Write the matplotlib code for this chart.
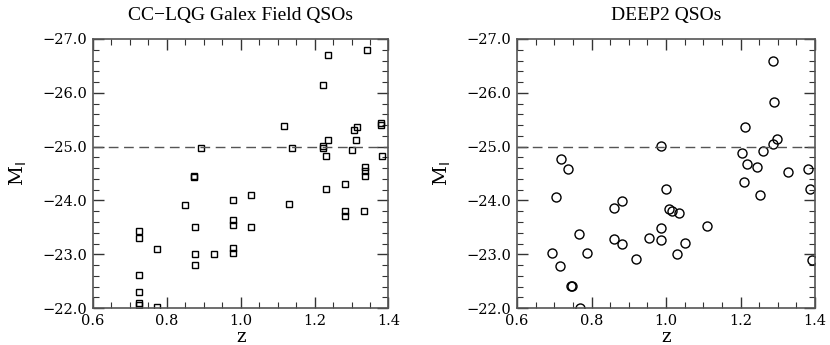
import numpy as np
import matplotlib.pyplot as plt
from matplotlib.ticker import MultipleLocator, FuncFormatter

# CC-LQG Galex field QSOs
z_galex = [0.892, 0.874, 0.874, 1.236, 1.342, 1.224, 1.118, 1.138, 1.224, 1.224,
           1.236, 1.231, 1.306, 1.314, 1.311, 1.300, 1.379, 1.379, 1.383, 1.336,
           1.336, 1.336, 1.283, 1.231, 1.028, 0.978, 1.130, 1.283, 1.283, 1.334,
           0.978, 0.978, 1.028, 0.978, 0.978, 0.724, 0.724, 0.724, 0.724, 0.724,
           0.724, 0.774, 0.774, 0.850, 0.875, 0.875, 0.875, 0.927]
m_galex = [-24.97, -24.43, -24.46, -26.71, -26.80, -26.14, -25.38, -24.98, -25.01, -24.97,
           -25.12, -24.83, -25.30, -25.37, -25.13, -24.93, -25.41, -25.44, -24.83, -24.63,
           -24.55, -24.46, -24.31, -24.22, -24.11, -24.01, -23.93, -23.80, -23.72, -23.80,
           -23.63, -23.54, -23.51, -23.11, -23.03, -23.43, -23.31, -22.61, -22.30, -22.10,
           -22.05, -23.10, -22.02, -23.92, -23.51, -23.01, -22.80, -23.01]

# DEEP2 QSOs
z_deep2 = [0.718, 0.736, 0.986, 1.286, 1.289, 1.212, 1.299, 1.286, 1.205, 1.259,
           1.216, 1.244, 1.328, 1.381, 1.210, 1.387, 1.252, 1.001, 1.009, 1.017,
           1.034, 0.987, 0.987, 1.110, 1.052, 1.029, 1.391, 0.704, 0.860, 0.883,
           0.767, 0.860, 0.882, 0.954, 0.694, 0.787, 0.715, 0.918, 0.745, 0.748,
           0.770]
m_deep2 = [-24.77, -24.59, -25.01, -26.60, -25.83, -25.37, -25.15, -25.04, -24.89, -24.92,
           -24.68, -24.62, -24.52, -24.59, -24.35, -24.21, -24.11, -24.21, -23.85, -23.80,
           -23.77, -23.49, -23.26, -23.53, -23.21, -23.00, -22.90, -24.07, -23.86, -23.99,
           -23.37, -23.29, -23.20, -23.31, -23.02, -23.03, -22.79, -22.91, -22.41, -22.41,
           -22.01]

fmt = FuncFormatter(lambda v, pos: f'{v:.1f}'.replace('-', '\u2212'))

fig = plt.figure(figsize=(8.3, 3.45), dpi=100)
ax1 = fig.add_axes([0.112, 0.107, 0.356, 0.78])
ax2 = fig.add_axes([0.623, 0.107, 0.359, 0.78])

panels = [(ax1, z_galex, m_galex, 's', 4.5, 'CC\u2212LQG Galex Field QSOs'),
          (ax2, z_deep2, m_deep2, 'o', 6.5, 'DEEP2 QSOs')]

for ax, z, m, mk, ms, title in panels:
    ax.plot(z, m, linestyle='none', marker=mk, markersize=ms,
            markerfacecolor='none', markeredgecolor='black', markeredgewidth=1.0)
    ax.axhline(-25.0, color='#555555', linestyle=(0, (7, 4)), linewidth=1.0)
    ax.set_xlim(0.6, 1.4)
    ax.set_ylim(-22.0, -27.0)
    ax.xaxis.set_major_locator(MultipleLocator(0.2))
    ax.xaxis.set_minor_locator(MultipleLocator(0.05))
    ax.yaxis.set_major_locator(MultipleLocator(1.0))
    ax.yaxis.set_minor_locator(MultipleLocator(0.2))
    ax.xaxis.set_major_formatter(fmt)
    ax.yaxis.set_major_formatter(fmt)
    ax.tick_params(which='both', direction='in', top=True, right=True,
                   labelsize=10.5, color='#333333')
    for lab in ax.get_xticklabels() + ax.get_yticklabels():
        lab.set_family('DejaVu Serif')
    ax.tick_params(which='major', length=8, width=1.0)
    ax.tick_params(axis='x', which='major', pad=4)
    ax.tick_params(axis='y', which='major', pad=4)
    ax.tick_params(which='minor', length=4, width=0.8)
    for sp in ax.spines.values():
        sp.set_color('#555555')
        sp.set_linewidth(1.2)
    ax.set_xlabel('z', fontsize=13, family='DejaVu Serif', labelpad=0)
    ax.set_ylabel('M$_\\mathrm{I}$', fontsize=14, family='DejaVu Serif', labelpad=10)
    ax.set_title(title, fontsize=14, family='Liberation Serif', pad=14)

fig.savefig('out.png', dpi=100)
